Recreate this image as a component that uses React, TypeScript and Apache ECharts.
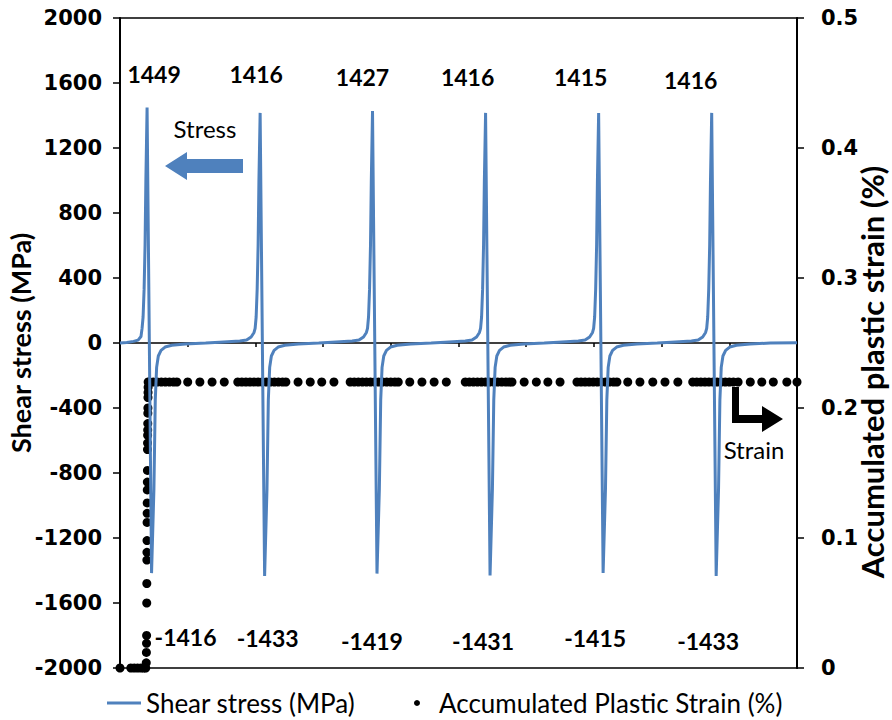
import React, { useEffect, useRef } from "react";
import * as echarts from "echarts";

// Positions of the stress reversals along the (unlabelled) time axis
const peakX = [4.0, 20.7, 37.3, 54.0, 70.7, 87.4];
const peakStress = [1449, 1416, 1427, 1416, 1415, 1416];
const troughX = [4.66, 21.36, 37.96, 54.66, 71.36, 88.06];
const troughStress = [-1416, -1433, -1419, -1431, -1415, -1433];

// Rising branch leading into each positive peak [x, MPa]
const riseBranches: number[][][] = [
  [[0, 0], [1.0, 3], [2.0, 10], [2.67, 18], [3.1, 40], [3.26, 90], [3.41, 160], [3.56, 330], [3.7, 600], [3.82, 1000]],
  [[14.7, 5], [17.7, 12], [18.7, 18], [19.37, 37], [19.8, 65], [19.96, 90], [20.11, 160], [20.26, 330], [20.4, 600], [20.52, 1000]],
  [[31.3, 5], [34.3, 12], [35.3, 18], [35.97, 37], [36.4, 65], [36.56, 90], [36.71, 160], [36.86, 330], [37.0, 600], [37.12, 1000]],
  [[48.0, 5], [51.0, 12], [52.0, 18], [52.67, 37], [53.1, 65], [53.26, 90], [53.41, 160], [53.56, 330], [53.7, 600], [53.82, 1000]],
  [[64.7, 5], [67.7, 12], [68.7, 18], [69.37, 37], [69.8, 65], [69.96, 90], [70.11, 160], [70.26, 330], [70.4, 600], [70.52, 1000]],
  [[81.4, 5], [84.4, 12], [85.4, 18], [86.07, 37], [86.5, 65], [86.66, 90], [86.81, 160], [86.96, 330], [87.1, 600], [87.22, 1000]],
];

// Recovery branch after each negative trough [x, MPa]
const recoveryBranches: number[][][] = [
  [[5.01, -900], [5.21, -350], [5.41, -150], [5.66, -80], [6.06, -45], [6.66, -25], [7.66, -14], [9.66, -6], [12.66, 0]],
  [[21.71, -900], [21.91, -350], [22.11, -150], [22.36, -80], [22.76, -45], [23.36, -25], [24.36, -14], [26.36, -6], [29.36, 0]],
  [[38.31, -900], [38.51, -350], [38.71, -150], [38.96, -80], [39.36, -45], [39.96, -25], [40.96, -14], [42.96, -6], [45.96, 0]],
  [[55.01, -900], [55.21, -350], [55.41, -150], [55.66, -80], [56.06, -45], [56.66, -25], [57.66, -14], [59.66, -6], [62.66, 0]],
  [[71.71, -900], [71.91, -350], [72.11, -150], [72.36, -80], [72.76, -45], [73.36, -25], [74.36, -14], [76.36, -6], [79.36, 0]],
  [[88.41, -900], [88.61, -350], [88.81, -150], [89.06, -80], [89.46, -45], [90.06, -25], [91.06, -14], [93.06, -6], [96.06, 0], [100, 2]],
];

// Accumulated plastic strain (%) during the first loading step [x, %]
const strainRamp: number[][] = [
  [0, 0], [1.6, 0], [2.1, 0], [2.6, 0], [3.1, 0], [3.5, 0], [3.8, 0],
  [3.88, 0.004], [3.9, 0.012], [3.92, 0.019], [3.93, 0.025], [3.95, 0.05],
  [3.96, 0.065], [3.97, 0.083], [3.98, 0.089], [3.99, 0.098], [4.0, 0.112],
  [4.01, 0.119], [4.02, 0.127], [4.03, 0.137], [4.04, 0.143], [4.05, 0.152],
  [4.06, 0.168], [4.07, 0.173], [4.08, 0.179], [4.09, 0.183], [4.1, 0.188],
  [4.11, 0.196], [4.12, 0.2], [4.13, 0.208], [4.14, 0.212], [4.15, 0.216], [4.16, 0.22],
];

// Saturated strain level and the sample times at which it was recorded
const strainPlateau = 0.22;
const strainPlateauX = [
  4.3, 4.9, 5.5, 6.1, 6.7, 7.3, 7.9, 8.4,
  10.0, 11.8, 13.6, 15.4,
  17.4, 18.0, 18.6, 19.2, 19.8, 20.4, 21.0, 21.6, 22.2, 22.8, 23.4, 24.0, 24.5,
  26.3, 28.1, 29.8, 31.6,
  34.0, 34.6, 35.2, 35.8, 36.4, 37.0, 37.6, 38.2, 38.8, 39.4, 40.0, 40.6, 41.1,
  42.8, 44.6, 46.4, 48.2,
  51.0, 51.6, 52.2, 52.8, 53.4, 54.0, 54.6, 55.2, 55.8, 56.4, 57.0, 57.5, 57.9,
  59.7, 61.5, 63.2, 65.0,
  67.5, 68.1, 68.7, 69.3, 69.9, 70.5, 71.1, 71.7, 72.3, 72.9, 73.4,
  75.0, 76.8, 78.7, 80.5, 82.4,
  84.6, 85.2, 85.8, 86.4, 87.0, 87.6, 88.2, 88.8, 89.4, 90.0, 90.6, 91.3,
  93.1, 94.8, 96.5, 98.5, 100,
];

// Pixel nudges for the peak / trough value labels
const peakLabelShift = [[7, -34], [-4, -39], [-10, -34], [-18, -36], [-18, -36], [-21, -33]];
const troughLabelShift = [[34, 64], [3, 62], [-5, 67], [-7, 65], [-8, 65], [-8, 65]];

const STRESS_NAME = "Shear stress (MPa)";
const STRAIN_NAME = "Accumulated Plastic Strain (%)";
const BLUE = "#4F81BD";
const TICK_FONT = "DejaVu Sans";
const TEXT_FONT = "Lato";

export default function App() {
  const ref = useRef<HTMLDivElement>(null);

  useEffect(() => {
    if (!ref.current) return;
    const chart = echarts.init(ref.current, undefined, { renderer: "svg" });

    const stressData: number[][] = [];
    for (let k = 0; k < peakX.length; k++) {
      stressData.push(...riseBranches[k]);
      stressData.push([peakX[k], peakStress[k]]);
      stressData.push([troughX[k], troughStress[k]]);
      stressData.push(...recoveryBranches[k]);
    }

    const strainData = [...strainRamp, ...strainPlateauX.map((x) => [x, strainPlateau])];

    const labelData = [
      ...peakX.map((x, i) => ({ value: [x, peakStress[i]], label: { offset: peakLabelShift[i] } })),
      ...troughX.map((x, i) => ({ value: [x, troughStress[i]], label: { offset: troughLabelShift[i] } })),
    ];

    const tickLabel = { fontFamily: TICK_FONT, fontWeight: "bold", fontSize: 21, color: "#000" };
    const legendText = { fontFamily: TEXT_FONT, fontSize: 26, lineHeight: 26, color: "#000" };

    chart.setOption({
      animation: false,
      backgroundColor: "#fff",
      grid: {
        left: 120,
        right: 95,
        top: 18,
        bottom: 52,
        outerBoundsMode: "none",
        containLabel: false,
        show: true,
        borderColor: "#000",
        borderWidth: 1.5,
        backgroundColor: "transparent",
      },
      legend: [
        {
          data: [{ name: STRESS_NAME, icon: "rect" }],
          left: 102,
          top: 690,
          padding: [0, 5, 0, 5],
          itemWidth: 34,
          itemHeight: 3,
          textStyle: legendText,
        },
        {
          data: [STRAIN_NAME],
          left: 409,
          top: 690,
          padding: [0, 5, 0, 5],
          itemWidth: 34,
          itemHeight: 6,
          textStyle: legendText,
        },
      ],
      xAxis: {
        type: "value",
        min: 0,
        max: 100,
        interval: 10,
        axisLine: { onZero: true, lineStyle: { color: "#000", width: 1.5 } },
        axisTick: { show: true, length: 4, lineStyle: { color: "#000", width: 1.5 } },
        axisLabel: { show: false },
        splitLine: { show: false },
      },
      yAxis: [
        {
          type: "value",
          min: -2000,
          max: 2000,
          interval: 400,
          name: STRESS_NAME,
          nameLocation: "middle",
          nameRotate: 90,
          nameGap: 86,
          nameMoveOverlap: false,
          nameTextStyle: { fontFamily: TEXT_FONT, fontWeight: "bold", fontSize: 27, color: "#000" },
          axisLine: { show: true, lineStyle: { color: "#000", width: 2 } },
          axisTick: { show: true, length: 7, lineStyle: { color: "#000", width: 1.5 } },
          axisLabel: { ...tickLabel, margin: 18, formatter: (v: number) => String(v) },
          splitLine: { show: false },
        },
        {
          type: "value",
          position: "right",
          min: 0,
          max: 0.5,
          interval: 0.1,
          axisLine: { show: true, lineStyle: { color: "#000", width: 2 } },
          axisTick: { show: true, length: 7, lineStyle: { color: "#000", width: 1.5 } },
          axisLabel: {
            ...tickLabel,
            margin: 24,
            formatter: (v: number) => (v === 0 ? "0" : v.toFixed(1)),
          },
          splitLine: { show: false },
        },
      ],
      series: [
        {
          name: STRAIN_NAME,
          type: "scatter",
          yAxisIndex: 1,
          data: strainData,
          symbol: "circle",
          symbolSize: 9,
          itemStyle: { color: "#000", opacity: 1 },
          z: 2,
          markLine: {
            silent: true,
            symbol: "none",
            lineStyle: { opacity: 0 },
            label: {
              show: true,
              position: "end",
              distance: 17,
              formatter: "0.22",
              ...tickLabel,
            },
            data: [{ yAxis: strainPlateau }],
          },
        },
        {
          name: STRESS_NAME,
          type: "line",
          data: stressData,
          symbol: "none",
          smooth: false,
          lineStyle: { color: BLUE, width: 3 },
          itemStyle: { color: BLUE },
          z: 3,
        },
        {
          name: "value labels",
          type: "scatter",
          data: labelData,
          symbol: "circle",
          symbolSize: 1,
          itemStyle: { color: "rgba(255,255,255,0)", opacity: 1 },
          label: {
            show: true,
            position: "inside",
            fontFamily: TEXT_FONT,
            fontWeight: "bold",
            fontSize: 23,
            color: "#000",
            opacity: 1,
            formatter: (p: any) => String(p.value[1]),
          },
          z: 4,
          silent: true,
        },
      ],
      graphic: [
        {
          type: "polygon",
          shape: {
            points: [[165, 166], [187, 152], [187, 159], [243, 159], [243, 173], [187, 173], [187, 180]],
          },
          style: { fill: BLUE },
        },
        {
          type: "text",
          x: 205,
          y: 128,
          style: {
            text: "Stress",
            fontFamily: TEXT_FONT,
            fontSize: 24,
            fill: "#000",
            textAlign: "center",
            textVerticalAlign: "middle",
          },
        },
        {
          type: "polygon",
          shape: {
            points: [[732, 387], [739, 387], [739, 415], [762, 415], [762, 406], [783, 419], [762, 432], [762, 423], [732, 423]],
          },
          style: { fill: "#000" },
        },
        {
          type: "text",
          x: 754,
          y: 449,
          style: {
            text: "Strain",
            fontFamily: TEXT_FONT,
            fontSize: 24,
            fill: "#000",
            textAlign: "center",
            textVerticalAlign: "middle",
          },
        },
        {
          type: "text",
          x: 872,
          y: 372,
          rotation: Math.PI / 2,
          style: {
            text: "Accumulated plastic strain (%)",
            fontFamily: TEXT_FONT,
            fontWeight: "bold",
            fontSize: 31,
            fill: "#000",
            textAlign: "center",
            textVerticalAlign: "middle",
          },
        },
      ],
    });

    return () => chart.dispose();
  }, []);

  return <div ref={ref} style={{ width: 892, height: 720, position: "absolute", left: 0, top: 0 }} />;
}
